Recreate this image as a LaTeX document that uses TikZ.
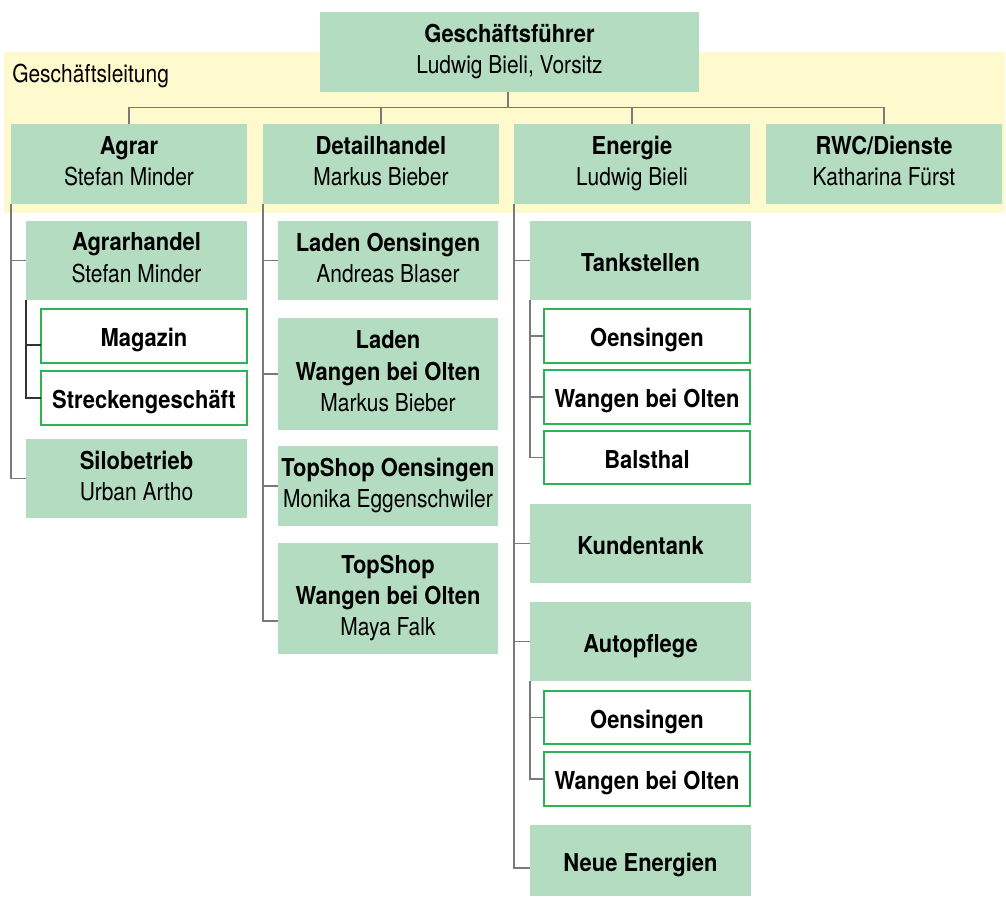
\documentclass[tikz,border=0pt]{standalone}
\usepackage{fontspec}
\setmainfont{TeX Gyre Heros}[UprightFeatures={FakeStretch=0.85}, BoldFeatures={FakeStretch=0.89}]
\def\pxu{0.75pt}
\definecolor{orggreen}{HTML}{B3DCC0}
\definecolor{bandyellow}{HTML}{FFF9CE}
\definecolor{framegreen}{HTML}{2DB256}
\definecolor{linegray}{HTML}{7A7A7A}
\tikzset{
  unit/.style={fill=orggreen, anchor=north west, inner sep=0pt, outer sep=0pt,
    align=center, font=\fontsize{18.5}{23.5}\selectfont,
    execute at begin node={\rule{0pt}{20.5pt}},
    execute at end node={\rule[-4.5pt]{0pt}{4.5pt}}},
  subunit/.style={unit, fill=white, draw=framegreen, line width=1.1pt},
  boxsize/.style 2 args={minimum width=#1*\pxu, minimum height=#2*\pxu},
  conn/.style={draw=linegray, line width=1.3pt},
  subconn/.style={draw=black!80, line width=1.3pt}
}

\begin{document}
\begin{tikzpicture}[x=\pxu, y=-\pxu]
      \useasboundingbox (0,0) rectangle (1006,897);
      \fill[bandyellow] (4,52) rectangle (1005,213);
      \node[anchor=base west, inner sep=0pt, font=\fontsize{18.5}{23.5}\selectfont] (gl) at (12,82) {Geschäftsleitung};
      % Leitung
      \node[unit, boxsize={379}{80}] (gf) at (320,12) {\textbf{Geschäftsführer}\\Ludwig Bieli, Vorsitz};
      \node[unit, boxsize={236}{80}] (agrar) at (11,124) {\textbf{Agrar}\\Stefan Minder};
      \node[unit, boxsize={236}{80}] (detail) at (263,124) {\textbf{Detailhandel}\\Markus Bieber};
      \node[unit, boxsize={236}{80}] (energie) at (514,124) {\textbf{Energie}\\Ludwig Bieli};
      \node[unit, boxsize={236}{80}] (rwc) at (766,124) {\textbf{RWC/Dienste}\\Katharina Fürst};
      % Agrar
      \node[unit, boxsize={221}{79}] (agrarhandel) at (26,221) {\textbf{Agrarhandel}\\Stefan Minder};
      \node[subunit, boxsize={206}{54}] (magazin) at (41,309) {\textbf{Magazin}};
      \node[subunit, boxsize={206}{54}] (strecken) at (41,371) {\textbf{Streckengeschäft}};
      \node[unit, boxsize={221}{79}] (silo) at (26,439) {\textbf{Silobetrieb}\\Urban Artho};
      % Detailhandel
      \node[unit, boxsize={220}{79}] (ladenoe) at (278,221) {\textbf{Laden Oensingen}\\Andreas Blaser};
      \node[unit, boxsize={220}{112}] (ladenwa) at (278,318) {\textbf{Laden}\\\textbf{Wangen bei Olten}\\Markus Bieber};
      \node[unit, boxsize={220}{80}] (topoe) at (278,446) {\textbf{TopShop Oensingen}\\Monika Eggenschwiler};
      \node[unit, boxsize={220}{111}] (topwa) at (278,543) {\textbf{TopShop}\\\textbf{Wangen bei Olten}\\Maya Falk};
      % Energie
      \node[unit, boxsize={221}{79}] (tank) at (530,221) {\textbf{Tankstellen}};
      \node[subunit, boxsize={206}{54}] (tankoe) at (544,309) {\textbf{Oensingen}};
      \node[subunit, boxsize={206}{54}] (tankwa) at (544,370) {\textbf{Wangen bei Olten}};
      \node[subunit, boxsize={206}{53}] (tankba) at (544,431) {\textbf{Balsthal}};
      \node[unit, boxsize={221}{79}] (kunden) at (530,504) {\textbf{Kundentank}};
      \node[unit, boxsize={221}{79}] (auto) at (530,602) {\textbf{Autopflege}};
      \node[subunit, boxsize={206}{53}] (autooe) at (544,691) {\textbf{Oensingen}};
      \node[subunit, boxsize={206}{54}] (autowa) at (544,752) {\textbf{Wangen bei Olten}};
      \node[unit, boxsize={221}{71}] (neue) at (530,825) {\textbf{Neue Energien}};
      % Linien
      \coordinate (bar) at (508,107.5);
      \draw[conn] (gf.south -| bar) -- (bar);
      \draw[conn] (bar) -| (agrar.north);
      \draw[conn] (bar) -| (detail.north);
      \draw[conn] (bar) -| (energie.north);
      \draw[conn] (bar) -| (rwc.north);
      \draw[conn] (agrar.south west) |- (agrarhandel.west);
      \draw[conn] (agrar.south west) |- (silo.west);
      \draw[subconn] (agrarhandel.south west) |- ([yshift=-6.75pt]magazin.west);
      \draw[subconn] (agrarhandel.south west) |- (strecken.west);
      \draw[conn] (detail.south west) |- (ladenoe.west);
      \draw[conn] (detail.south west) |- (ladenwa.west);
      \draw[conn] (detail.south west) |- (topoe.west);
      \draw[conn] (detail.south west) |- ([yshift=-17pt]topwa.west);
      \draw[conn] (energie.south west) |- (tank.west);
      \draw[conn] (energie.south west) |- (kunden.west);
      \draw[conn] (energie.south west) |- (auto.west);
      \draw[conn] (energie.south west) |- ([yshift=-5.5pt]neue.west);
      \draw[conn] (tank.south west) |- (tankoe.west);
      \draw[conn] (tank.south west) |- (tankwa.west);
      \draw[conn] (tank.south west) |- (tankba.west);
      \draw[conn] (auto.south west) |- (autooe.west);
      \draw[conn] (auto.south west) |- (autowa.west);
\end{tikzpicture}
\end{document}
